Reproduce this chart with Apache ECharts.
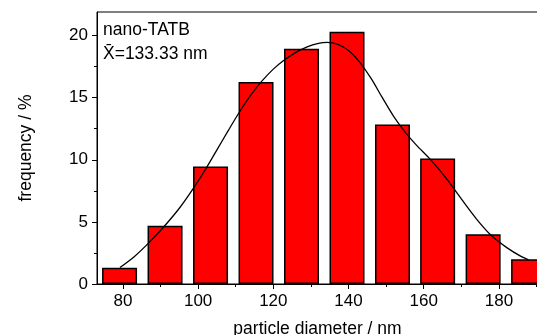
<!DOCTYPE html>
<html>
<head>
<meta charset="utf-8">
<script src="https://cdn.jsdelivr.net/npm/echarts@6/dist/echarts.min.js"></script>
<style>
  html, body { margin: 0; padding: 0; background: #fff; }
  #chart { width: 537px; height: 335px; }
</style>
</head>
<body>
<div id="chart"></div>
<script>
  // histogram bins (centre, frequency %)
  var binCenters = [79.1, 91.2, 103.3, 115.4, 127.5, 139.6, 151.7, 163.7, 175.8, 187.9];
  var freq = [1.31, 4.70, 9.46, 16.26, 18.95, 20.30, 12.85, 10.10, 4.00, 1.99];

  // fitted distribution curve
  var fitX = [79.2, 83, 87, 91, 95, 98.5, 102, 105, 108, 111, 114, 117, 120, 123, 126, 129, 132, 134.3, 137, 140, 143, 146, 149, 152, 155, 158, 162, 166, 170, 174, 178, 182, 186, 187.9];
  var fitY = [1.33, 2.2, 3.35, 4.65, 6.1, 7.6, 9.25, 10.8, 12.35, 13.85, 15.2, 16.35, 17.3, 18.05, 18.65, 19.1, 19.38, 19.46, 19.32, 18.8, 17.85, 16.55, 15.0, 13.5, 12.25, 11.2, 9.95, 8.5, 6.85, 5.25, 3.9, 2.95, 2.2, 1.95];

  var xMajor = [80, 100, 120, 140, 160, 180];
  var xMinor = [90, 110, 130, 150, 170, 190];
  var yMajor = [0, 5, 10, 15, 20];
  var yMinor = [2.5, 7.5, 12.5, 17.5];

  var font = '"Liberation Sans", Arial, sans-serif';
  var xMin = 73.1, xMax = 190.4, yMin = 0, yMax = 21.9;

  var chart = echarts.init(document.getElementById('chart'));
  chart.setOption({
    animation: false,
    grid: {
      left: 97, top: 12, right: -1, bottom: 51,
      outerBoundsMode: 'none',
      containLabel: false,
      show: true, borderColor: '#000', borderWidth: 1, backgroundColor: 'transparent'
    },
    xAxis: [{
      type: 'value', min: xMin, max: xMax, position: 'bottom',
      name: 'particle diameter / nm', nameLocation: 'middle', nameGap: 36,
      nameTextStyle: { color: '#000', fontSize: 17.5, fontFamily: font },
      axisLine: { show: true, lineStyle: { color: '#000', width: 1 } },
      axisTick: { show: true, inside: false, length: 5, customValues: xMajor, lineStyle: { color: '#000' } },
      axisLabel: { color: '#000', fontSize: 17, fontFamily: font, margin: 9, customValues: xMajor },
      splitLine: { show: false }
    }, {
      type: 'value', min: xMin, max: xMax, position: 'bottom',
      axisLine: { show: false },
      axisTick: { show: true, inside: false, length: 3, customValues: xMinor, lineStyle: { color: '#000' } },
      axisLabel: { show: false },
      splitLine: { show: false }
    }],
    yAxis: [{
      type: 'value', min: yMin, max: yMax, position: 'left',
      name: 'frequency / %', nameLocation: 'middle', nameGap: 62,
      nameTextStyle: { color: '#000', fontSize: 17.5, fontFamily: font },
      axisLine: { show: true, lineStyle: { color: '#000', width: 1 } },
      axisTick: { show: true, inside: false, length: 5, customValues: yMajor, lineStyle: { color: '#000' } },
      axisLabel: { color: '#000', fontSize: 17, fontFamily: font, margin: 9, customValues: yMajor },
      splitLine: { show: false }
    }, {
      type: 'value', min: yMin, max: yMax, position: 'left',
      axisLine: { show: false },
      axisTick: { show: true, inside: false, length: 3, customValues: yMinor, lineStyle: { color: '#000' } },
      axisLabel: { show: false },
      splitLine: { show: false }
    }],
    graphic: [{
      type: 'text', left: 103, top: 21,
      style: { text: 'nano-TATB', fill: '#000', font: '17.5px ' + font }
    }, {
      type: 'text', left: 103, top: 45,
      style: { text: 'X\u0304=133.33 nm', fill: '#000', font: '17.5px ' + font }
    }],
    series: [{
      type: 'bar',
      xAxisIndex: 0, yAxisIndex: 0,
      barWidth: 35,
      clip: true,
      itemStyle: { color: '#ff0000', borderColor: '#000', borderWidth: 1.5 },
      data: binCenters.map(function (x, i) { return [x, freq[i]]; })
    }, {
      type: 'line',
      xAxisIndex: 0, yAxisIndex: 0,
      smooth: 0.3,
      showSymbol: false,
      lineStyle: { color: '#000', width: 1.3 },
      data: fitX.map(function (x, i) { return [x, fitY[i]]; })
    }]
  });
</script>
</body>
</html>
